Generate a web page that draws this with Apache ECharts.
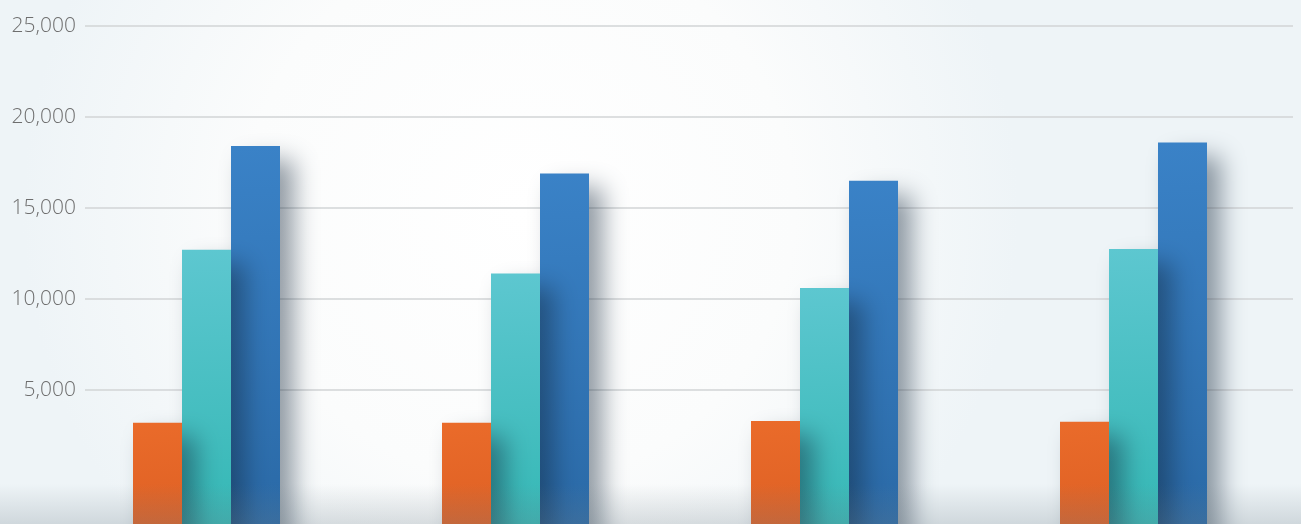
<!DOCTYPE html>
<html>
<head>
<meta charset="utf-8">
<script src="https://cdn.jsdelivr.net/npm/echarts@6/dist/echarts.min.js"></script>
<style>
html,body{margin:0;padding:0;background:#fff;}
#c{width:1301px;height:524px;}
</style>
</head>
<body>
<div id="c"></div>
<script>
// ---- data ----
const categories = ['1', '2', '3', '4'];
const seriesNames = ['Series A', 'Series B', 'Series C'];
const orangeValues = [3200, 3200, 3300, 3250];
const tealValues = [12700, 11400, 10600, 12750];
const blueValues = [18400, 16900, 16500, 18600];
const yTicks = [5000, 10000, 15000, 20000, 25000];

function fmt(v) { return String(v).replace(/\B(?=(\d{3})+(?!\d))/g, ','); }

const chart = echarts.init(document.getElementById('c'), null, { renderer: 'canvas' });

function grad(top, bottom) {
  return new echarts.graphic.LinearGradient(0, 0, 0.25, 1, [
    { offset: 0, color: top }, { offset: 1, color: bottom }
  ]);
}

const shadow = {
  shadowColor: 'rgba(15,35,55,0.45)',
  shadowBlur: 24,
  shadowOffsetX: 14,
  shadowOffsetY: 14
};

const option = {
  backgroundColor: {
    type: 'radial', x: 0.4, y: 0.4, r: 0.95,
    colorStops: [
      { offset: 0, color: '#ffffff' },
      { offset: 0.55, color: '#fbfcfc' },
      { offset: 1, color: '#eef4f7' }
    ]
  },
  animation: false,
  grid: [
    { left: 85, width: 1208, top: 26, height: 546, outerBoundsMode: 'none', containLabel: false },
    { left: 52, width: 1236, top: 26, height: 546, outerBoundsMode: 'none', containLabel: false }
  ],
  xAxis: [
    { type: 'category', gridIndex: 0, data: categories, show: false },
    { type: 'category', gridIndex: 1, data: categories, show: false }
  ],
  yAxis: [
    {
      type: 'value', gridIndex: 0, min: -5000, max: 25000, interval: 5000,
      axisLine: { show: false }, axisTick: { show: false },
      axisLabel: {
        margin: 9, color: '#6e6e6e', fontSize: 21, fontFamily: 'Open Sans', fontWeight: 300,
        verticalAlign: 'middle', padding: [0, 0, 12, 0],
        formatter: v => (yTicks.indexOf(v) >= 0 ? fmt(v) : '')
      },
      splitLine: {
        lineStyle: {
          width: 1.5,
          color: ['rgba(0,0,0,0)', 'rgba(0,0,0,0)', '#d2d4d6', '#d2d4d6', '#d2d4d6', '#d2d4d6', '#d2d4d6']
        }
      }
    },
    {
      type: 'value', gridIndex: 1, min: -5000, max: 25000, interval: 5000,
      startValue: -5000, show: false, splitLine: { show: false }
    }
  ],
  series: [
    {
      name: seriesNames[0], type: 'bar', xAxisIndex: 1, yAxisIndex: 1, z: 5,
      data: orangeValues, barWidth: 49, barGap: '0%',
      itemStyle: Object.assign({ color: grad('#ea6b2a', '#d95c22') }, shadow)
    },
    {
      name: seriesNames[1], type: 'bar', xAxisIndex: 1, yAxisIndex: 1, z: 4,
      data: tealValues, barWidth: 49, barGap: '0%',
      itemStyle: Object.assign({ color: grad('#5dc7d0', '#2eb5b0') }, shadow)
    },
    {
      name: seriesNames[2], type: 'bar', xAxisIndex: 1, yAxisIndex: 1, z: 3,
      data: blueValues, barWidth: 49, barGap: '0%',
      itemStyle: Object.assign({ color: grad('#3a82c7', '#2866a2') }, shadow)
    }
  ],
  graphic: [
    {
      type: 'rect', z: 100, silent: true,
      shape: { x: 0, y: 484, width: 1301, height: 40 },
      style: {
        fill: new echarts.graphic.LinearGradient(0, 0, 0, 1, [
          { offset: 0, color: 'rgba(110,125,135,0)' },
          { offset: 1, color: 'rgba(110,125,135,0.24)' }
        ])
      }
    }
  ]
};
chart.setOption(option);
</script>
</body>
</html>
